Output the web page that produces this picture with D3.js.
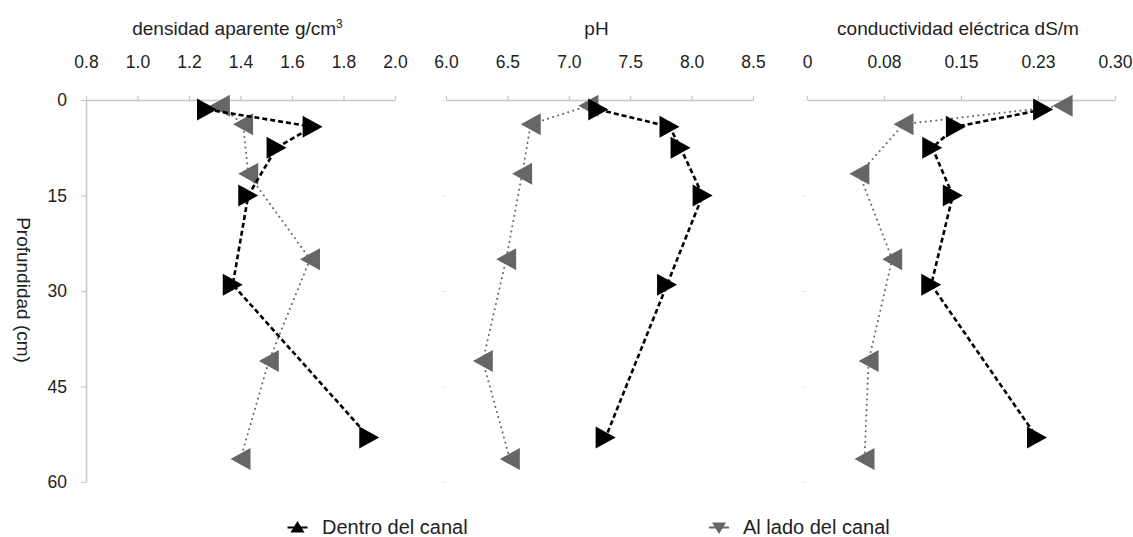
<!DOCTYPE html>
<html>
<head>
<meta charset="utf-8">
<script src="https://cdn.jsdelivr.net/npm/d3@7"></script>
<style>
  html, body { margin: 0; padding: 0; background: #fff; }
  svg { display: block; font-family: "Liberation Sans", Arial, Helvetica, sans-serif; }
</style>
</head>
<body>
<svg id="chart" width="1133" height="537"></svg>
<script>
// Depth (cm) of each sample, per series
const profDentro = [1.5, 4.2, 7.5, 15, 29, 53];
const profLado   = [0.9, 3.8, 11.6, 25, 41, 56.4];

// Bulk density (g/cm3)
const densidadDentro = [1.27, 1.68, 1.54, 1.43, 1.37, 1.90];
const densidadLado   = [1.32, 1.41, 1.43, 1.67, 1.51, 1.40];

// pH
const phDentro = [7.24, 7.82, 7.91, 8.09, 7.80, 7.30];
const phLado   = [7.16, 6.69, 6.62, 6.49, 6.30, 6.52];

// Electrical conductivity (dS/m)
const ceDentro = [0.230, 0.145, 0.122, 0.142, 0.121, 0.224];
const ceLado   = [0.249, 0.094, 0.051, 0.083, 0.060, 0.056];

// Axis ticks and labels
const depthTicks = [0, 15, 30, 45, 60];
const densidadTicks  = [0.8, 1.0, 1.2, 1.4, 1.6, 1.8, 2.0];
const densidadLabels = ["0.8", "1.0", "1.2", "1.4", "1.6", "1.8", "2.0"];
const phTicks  = [6.0, 6.5, 7.0, 7.5, 8.0, 8.5];
const phLabels = ["6.0", "6.5", "7.0", "7.5", "8.0", "8.5"];
const ceTicks  = [0, 0.075, 0.15, 0.225, 0.3];
const ceLabels = ["0", "0.08", "0.15", "0.23", "0.30"];

const seriesNames = ["Dentro del canal", "Al lado del canal"];

const svg = d3.select("#chart");
const axisGrey = "#c8c8c8";
const markGrey = "#666666";

const y = d3.scaleLinear().domain([0, 60]).range([100, 482]);

const panels = [
  { title: "densidad aparente g/cm", sup: "3", domain: [0.8, 2.0], range: [86, 395],
    ticks: densidadTicks, labels: densidadLabels, dentro: densidadDentro, lado: densidadLado, yAxis: true },
  { title: "pH", sup: null, domain: [6.0, 8.5], range: [446, 753],
    ticks: phTicks, labels: phLabels, dentro: phDentro, lado: phLado, yAxis: false },
  { title: "conductividad eléctrica dS/m", sup: null, domain: [0, 0.3], range: [807, 1115],
    ticks: ceTicks, labels: ceLabels, dentro: ceDentro, lado: ceLado, yAxis: false }
];

const triRight = "M-10,-11L10,0L-10,11Z";
const triLeft  = "M10,-11L-10,0L10,11Z";

panels.forEach(p => {
  const x = d3.scaleLinear().domain(p.domain).range(p.range);
  const g = svg.append("g");

  // top value axis
  const ax = g.append("g")
    .attr("transform", `translate(0,${y(0)})`)
    .call(d3.axisTop(x).tickValues(p.ticks)
      .tickFormat((d, i) => p.labels[i])
      .tickSize(4).tickSizeOuter(0).tickPadding(28));
  ax.select(".domain").attr("stroke", axisGrey).attr("stroke-width", 1.6);
  ax.selectAll(".tick line").attr("stroke", axisGrey).attr("stroke-width", 1.2);
  ax.selectAll(".tick text").attr("fill", "#222").style("font-size", "17.5px")
    .style("font-family", "'Liberation Sans', Arial, sans-serif");

  // depth axis
  const ay = g.append("g")
    .attr("transform", `translate(${p.range[0]},0)`)
    .call(d3.axisLeft(y).tickValues(depthTicks).tickSize(5).tickSizeOuter(0).tickPadding(14));
  if (p.yAxis) {
    ay.select(".domain").attr("stroke", axisGrey).attr("stroke-width", 1.6);
    ay.selectAll(".tick line").attr("stroke", axisGrey).attr("stroke-width", 1.2);
    ay.selectAll(".tick text").attr("fill", "#222").style("font-size", "17.5px")
      .style("font-family", "'Liberation Sans', Arial, sans-serif");
  } else {
    ay.select(".domain").remove();
    ay.selectAll(".tick text").remove();
    ay.selectAll(".tick line").attr("stroke", "#ededed").attr("stroke-width", 1);
  }

  // panel title
  const t = g.append("text")
    .attr("x", (p.range[0] + p.range[1]) / 2 - 3)
    .attr("y", 35)
    .attr("text-anchor", "middle")
    .attr("fill", "#222")
    .style("font-size", "19px")
    .text(p.title);
  if (p.sup) {
    t.append("tspan").attr("dy", -7).style("font-size", "12px").text(p.sup);
  }

  const ladoPts = p.lado.map((v, i) => [x(v), y(profLado[i])]);
  const dentroPts = p.dentro.map((v, i) => [x(v), y(profDentro[i])]);

  // outside the canal: dotted grey
  g.append("path")
    .attr("d", d3.line()(ladoPts))
    .attr("fill", "none")
    .attr("stroke", "#6a6a6a")
    .attr("stroke-width", 2)
    .attr("stroke-linecap", "round")
    .attr("stroke-dasharray", "0.1,5.2");

  g.selectAll(".lado").data(ladoPts).enter().append("path")
    .attr("class", "lado")
    .attr("d", triLeft)
    .attr("transform", d => `translate(${d[0]},${d[1]})`)
    .attr("fill", markGrey);

  // inside the canal: dashed black
  g.append("path")
    .attr("d", d3.line()(dentroPts))
    .attr("fill", "none")
    .attr("stroke", "#000")
    .attr("stroke-width", 2.6)
    .attr("stroke-dasharray", "5,3");

  g.selectAll(".dentro").data(dentroPts).enter().append("path")
    .attr("class", "dentro")
    .attr("d", triRight)
    .attr("transform", d => `translate(${d[0]},${d[1]})`)
    .attr("fill", "#000");
});

// depth axis title
svg.append("text")
  .attr("transform", `translate(17,${(y(0) + y(60)) / 2 - 1}) rotate(90)`)
  .attr("text-anchor", "middle")
  .attr("fill", "#222")
  .style("font-size", "19px")
  .text("Profundidad (cm)");

// legend
const legend = [
  { name: seriesNames[0], cx: 297.5, tx: 322, color: "#000", tri: "M0,-6.5L7,5L-7,5Z" },
  { name: seriesNames[1], cx: 719,   tx: 743, color: markGrey, tri: "M0,6.5L7,-5L-7,-5Z" }
];
const lg = svg.append("g");
legend.forEach(l => {
  lg.append("line")
    .attr("x1", l.cx - 10).attr("x2", l.cx + 10)
    .attr("y1", 527.5).attr("y2", 527.5)
    .attr("stroke", l.color).attr("stroke-width", 2);
  lg.append("path")
    .attr("d", l.tri)
    .attr("transform", `translate(${l.cx},527.5)`)
    .attr("fill", l.color);
  lg.append("text")
    .attr("x", l.tx).attr("y", 534)
    .attr("fill", "#222")
    .style("font-size", "20px")
    .text(l.name);
});
</script>
</body>
</html>
